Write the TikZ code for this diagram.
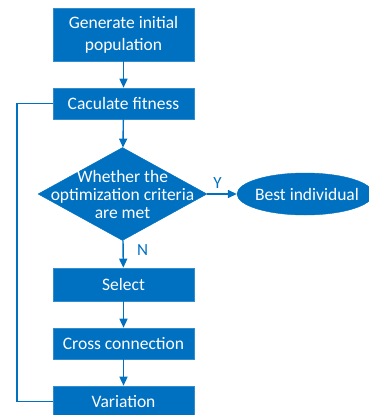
\documentclass[tikz,border=0pt]{standalone}
\usepackage{fontspec}
\setmainfont{Carlito}
\usetikzlibrary{shapes.geometric,arrows.meta}
\definecolor{fc}{HTML}{0070C0}
\begin{document}
\begin{tikzpicture}[x=1pt,y=-1pt,
  box/.style={draw=fc!80!white,line width=0.6pt,fill=fc,text=white,minimum width=141pt,align=center,inner sep=0pt,font=\fontsize{17.5}{22}\selectfont},
  dia/.style={diamond,draw=fc,fill=fc,inner sep=0pt,minimum width=169pt,minimum height=93pt},
  diatext/.style={text=white,align=center,inner sep=0pt,font=\fontsize{17.5}{18}\selectfont},
  ell/.style={ellipse,draw=fc,fill=fc,inner sep=0pt,minimum width=136pt,minimum height=42pt},
  elltext/.style={text=white,inner sep=0pt,font=\fontsize{17.5}{20}\selectfont},
  arr/.style={draw=fc,line width=1.4pt,-{Triangle[length=9pt,width=8pt]}},
  ln/.style={draw=fc,line width=1.4pt},
  lab/.style={text=fc,font=\fontsize{17}{18}\selectfont}]
\useasboundingbox (0,0) rectangle (369,415);
\node[box,minimum height=53pt] (gen) at (123.5,34.5) {Generate initial\\population};
\node[box,minimum height=31pt] (cal) at (123.5,103.5) {Caculate fitness};
\node[dia] (dec) at (122.5,194) {};
\node[diatext] (dect) at (122.5,194) {Whether the\\optimization criteria\\are met};
\node[ell] (best) at (305,194) {};
\node[elltext] (bestt) at (307,194) {Best individual};
\node[box,minimum height=33pt] (sel) at (123.5,284.5) {Select};
\node[box,minimum height=31pt] (cro) at (123.5,343.5) {Cross connection};
\node[box,minimum height=31pt] (var) at (123.5,401.5) {Variation};
\draw[arr] (gen) -- (cal);
\draw[arr] (cal) -- (dec);
\draw[arr] (dec) -- node[lab,above,pos=0.35,yshift=1pt]{Y} (best);
\draw[arr] (dec) -- node[lab,right,pos=0.36,xshift=10pt]{N} (sel);
\draw[arr] (sel) -- (cro);
\draw[arr] (cro) -- (var);
\coordinate (c1) at (17,0);
\draw[ln] (var.west) -- (var.west -| c1) -- (cal.west -| c1) -- (cal.west);
\end{tikzpicture}
\end{document}
